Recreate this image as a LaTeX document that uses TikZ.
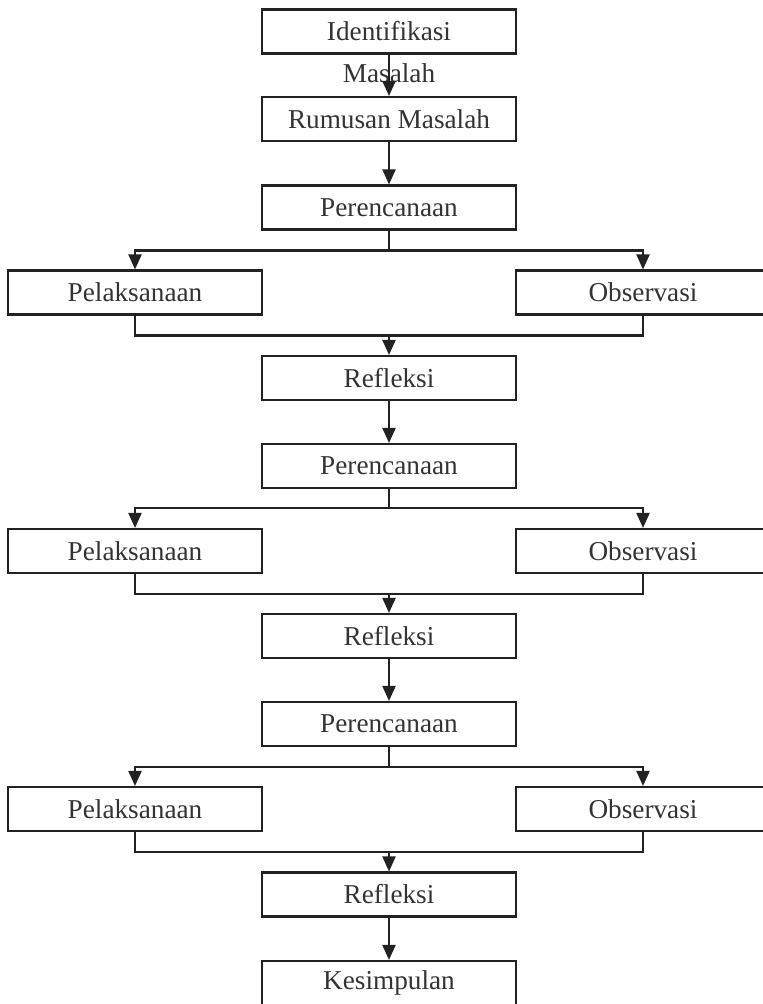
\documentclass[tikz,border=0pt]{standalone}
\usepackage{fontspec}
\setmainfont{Liberation Serif}
\usetikzlibrary{arrows.meta,positioning,calc}
\definecolor{ink}{HTML}{222222}
\definecolor{txt}{HTML}{333333}

\begin{document}
\begin{tikzpicture}[x=0.02cm,y=0.02cm,
  font=\fontsize{15.5}{18}\selectfont,
  stepbox/.style={draw=ink,line width=1.2pt,text=txt,minimum width=5.08cm,minimum height=0.88cm,inner sep=0pt},
  arr/.style={draw=ink,line width=1.2pt,-{Triangle[length=0.3cm,width=0.26cm]}},
  ln/.style={draw=ink,line width=1.2pt}]
\useasboundingbox (0,0) rectangle (762,-1004);
% column of steps
\node[stepbox,label={[text=txt,inner sep=0pt,yshift=-5pt]below:Masalah}] (ident) at (389,-31.5) {Identifikasi};
\node[stepbox] (rumusan) at (389,-119) {Rumusan Masalah};
\node[stepbox] (per1) at (389,-207.5) {Perencanaan};
\node[stepbox] (pel1) at (135,-292.5) {Pelaksanaan};
\node[stepbox] (obs1) at (643,-292.5) {Observasi};
\node[stepbox] (ref1) at (389,-378) {Refleksi};
\node[stepbox] (per2) at (389,-466) {Perencanaan};
\node[stepbox] (pel2) at (135,-551) {Pelaksanaan};
\node[stepbox] (obs2) at (643,-551) {Observasi};
\node[stepbox] (ref2) at (389,-636) {Refleksi};
\node[stepbox] (per3) at (389,-724) {Perencanaan};
\node[stepbox] (pel3) at (135,-809) {Pelaksanaan};
\node[stepbox] (obs3) at (643,-809) {Observasi};
\node[stepbox] (ref3) at (389,-894.5) {Refleksi};
\node[stepbox] (kes) at (389,-983) {Kesimpulan};
% straight arrows
\draw[arr] (ident) -- (rumusan);
\draw[arr] (rumusan) -- (per1);
\draw[arr] (ref1) -- (per2);
\draw[arr] (ref2) -- (per3);
\draw[arr] (ref3) -- (kes);
% cycle 1
\draw[ln] (per1.south) -- ++(0,-20) coordinate (b1);
\draw[arr] (b1) -| (pel1.north);
\draw[arr] (b1) -| (obs1.north);
\draw[ln] (pel1.south) -- ++(0,-20) coordinate (m1) -| (obs1.south);
\draw[arr] (m1 -| ref1.north) -- (ref1.north);
% cycle 2
\draw[ln] (per2.south) -- ++(0,-19) coordinate (b2);
\draw[arr] (b2) -| (pel2.north);
\draw[arr] (b2) -| (obs2.north);
\draw[ln] (pel2.south) -- ++(0,-20) coordinate (m2) -| (obs2.south);
\draw[arr] (m2 -| ref2.north) -- (ref2.north);
% cycle 3
\draw[ln] (per3.south) -- ++(0,-20) coordinate (b3);
\draw[arr] (b3) -| (pel3.north);
\draw[arr] (b3) -| (obs3.north);
\draw[ln] (pel3.south) -- ++(0,-20) coordinate (m3) -| (obs3.south);
\draw[arr] (m3 -| ref3.north) -- (ref3.north);
\end{tikzpicture}
\end{document}
